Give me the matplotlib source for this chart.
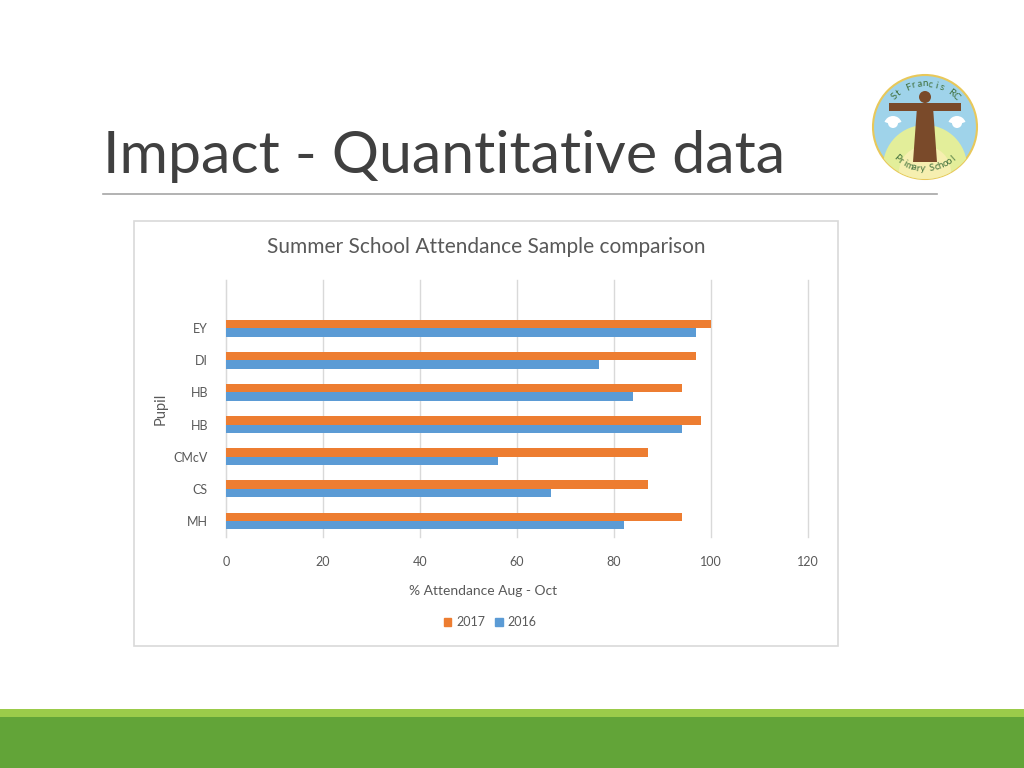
import numpy as np
import matplotlib
matplotlib.use("Agg")
import matplotlib.pyplot as plt
from matplotlib.patches import Rectangle, Circle, Wedge, Polygon

# ---- data ----
pupils = ["MH", "CS", "CMcV", "HB", "HB", "DI", "EY"]   # bottom -> top
att_2017 = [94, 87, 87, 98, 94, 97, 100]
att_2016 = [82, 67, 56, 94, 84, 77, 97]
x_ticks = [0, 20, 40, 60, 80, 100, 120]

slide_title = "Impact - Quantitative data"
chart_title = "Summer School Attendance Sample comparison"
x_label = "% Attendance Aug - Oct"
y_label = "Pupil"

ORANGE = "#ED7D31"
BLUE = "#5B9BD5"
TXT = "#595959"
FONT = "Lato"

W, H = 1024, 768
fig = plt.figure(figsize=(W / 100, H / 100), dpi=100)

# background decoration axes in pixel coordinates
bg = fig.add_axes([0, 0, 1, 1], zorder=0)
bg.set_xlim(0, W)
bg.set_ylim(H, 0)
bg.axis("off")

# slide title + rule
bg.text(103, 173, slide_title, fontsize=42.5, color="#404040", family=FONT,
        ha="left", va="baseline")
bg.plot([103, 937], [194, 194], color="#A6A6A6", lw=1.2)

# bottom green band
bg.add_patch(Rectangle((0, 709), W, 8, color="#9BCB4A", lw=0))
bg.add_patch(Rectangle((0, 717), W, 51, color="#62A438", lw=0))

# chart frame
bg.add_patch(Rectangle((134, 221), 704, 425, facecolor="white",
                       edgecolor="#D9D9D9", lw=1.2))

# logo (simplified)
cx, cy, r = 925, 127, 52
outer = Circle((cx, cy), r, facecolor="#9FD3EA", edgecolor="#E8C85A", lw=1.5)
bg.add_patch(outer)
g1 = Circle((cx, cy + 40), 42, facecolor="#E3EE9A", edgecolor="none")
bg.add_patch(g1)
g1.set_clip_path(outer)
g2 = Circle((cx, cy + 45), 26, facecolor="#F6EFB0", edgecolor="none")
bg.add_patch(g2)
g2.set_clip_path(outer)
# figure (robe + arms)
bg.add_patch(Polygon([(cx - 8, cy - 20), (cx + 8, cy - 20), (cx + 12, cy + 35),
                      (cx - 12, cy + 35)], closed=True, color="#7A4A2A", lw=0))
bg.add_patch(Polygon([(cx - 36, cy - 24), (cx + 36, cy - 24), (cx + 36, cy - 16),
                      (cx - 36, cy - 16)], closed=True, color="#7A4A2A", lw=0))
bg.add_patch(Circle((cx, cy - 30), 6, color="#7A4A2A", lw=0))
# doves
for dx in (-32, 32):
    bg.add_patch(Wedge((cx + dx, cy - 2), 9, 200, 340, color="white", lw=0))
    bg.add_patch(Circle((cx + dx, cy - 4), 5, color="white", lw=0))

def arc_text(s, radius, a0, a1, top=True, size=7):
    angs = np.linspace(a0, a1, len(s))
    for ch, a in zip(s, angs):
        t = np.deg2rad(a)
        x = cx + radius * np.cos(t)
        y = cy - radius * np.sin(t)
        rot = a - 90 if top else a + 90
        bg.text(x, y, ch, fontsize=size, color="#3E6E3A", family=FONT,
                rotation=rot, ha="center", va="center")

arc_text("St Francis RC", 43, 135, 45, top=True)
arc_text("Primary School", 42, 228, 312, top=False)

# ---- chart axes ----
ax = fig.add_axes([226 / W, 1 - 537 / H, 582 / W, 257 / H], zorder=2)
ax.patch.set_alpha(0)
y = np.arange(len(pupils))
h = 0.26
ax.barh(y + h / 2, att_2017, height=h, color=ORANGE, label="2017", zorder=3)
ax.barh(y - h / 2, att_2016, height=h, color=BLUE, label="2016", zorder=3)

ax.set_xlim(0, 120)
ax.set_ylim(-0.5, 7.5)
ax.set_xticks(x_ticks)
ax.set_yticks(y)
ax.set_yticklabels(pupils)
ax.grid(axis="x", color="#D9D9D9", lw=1, zorder=0)
for gl in ax.get_xgridlines():
    gl.set_clip_on(False)
for s in ("top", "right", "bottom"):
    ax.spines[s].set_visible(False)
ax.spines["left"].set_color("#D9D9D9")
ax.tick_params(axis="both", length=0, labelsize=9, labelcolor=TXT)
ax.tick_params(axis="y", pad=13)
ax.tick_params(axis="x", pad=14)
for lab in ax.get_xticklabels() + ax.get_yticklabels():
    lab.set_family(FONT)

ax.set_xlabel(x_label, fontsize=10, color=TXT, family=FONT, va="center")
ax.xaxis.set_label_coords((483 - 226) / 582, -(591 - 537) / 257)
ax.set_ylabel(y_label, fontsize=10.5, color=TXT, family=FONT, labelpad=4)

fig.text(486 / W, 1 - 247 / H, chart_title, fontsize=15, color=TXT,
         family=FONT, ha="center", va="center")

handles = [Rectangle((0, 0), 1, 1, color=ORANGE), Rectangle((0, 0), 1, 1, color=BLUE)]
fig.legend(handles, ["2017", "2016"], loc="center", bbox_to_anchor=(490 / W, 1 - 622 / H),
           ncol=2, frameon=False, prop={"family": FONT, "size": 9},
           labelcolor=TXT, handlelength=0.6, handleheight=0.6, handletextpad=0.4,
           columnspacing=0.8)

fig.savefig("out.png", dpi=100)
